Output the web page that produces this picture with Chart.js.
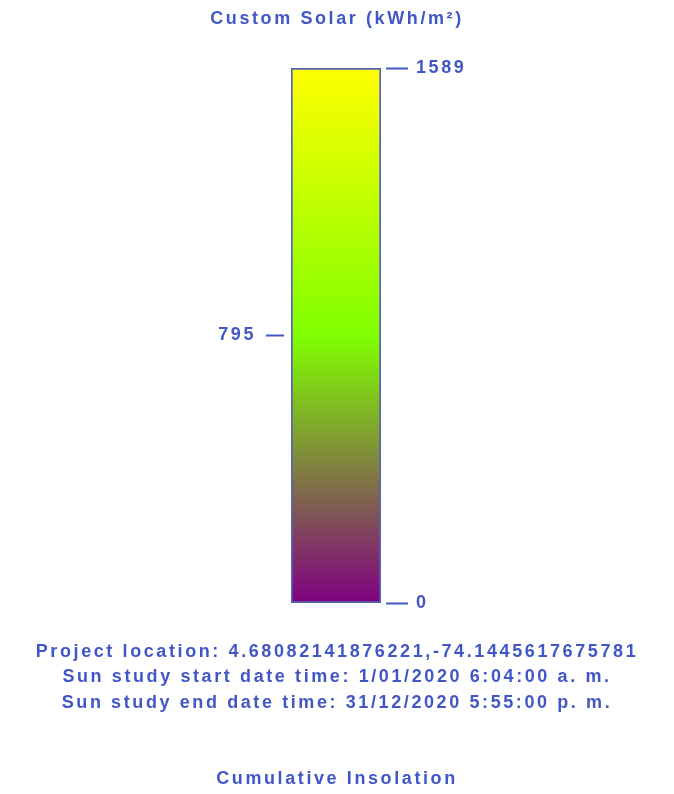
<!DOCTYPE html>
<html>
<head>
<meta charset="utf-8">
<script src="https://cdn.jsdelivr.net/npm/chart.js@4/dist/chart.umd.min.js"></script>
<style>
html, body { margin: 0; padding: 0; background: #fff; }
#legend-chart { display: block; }
</style>
</head>
<body>
<canvas id="legend-chart" width="674" height="794"></canvas>
<script>
// data
const categories = ["Cumulative Insolation"];
const barValues = [1589];
const leftTicks = [795];
const rightTicks = [0, 1589];
const colorStopValues = [0, 795, 1589];
const colorStopColors = ["#800080", "#80ff00", "#ffff00"];
const titleText = "Custom Solar (kWh/m²)";
const footerLines = [
    "Project location: 4.68082141876221,-74.1445617675781",
    "Sun study start date time: 1/01/2020 6:04:00 a. m.",
    "Sun study end date time: 31/12/2020 5:55:00 p. m.",
    "",
    "",
    "Cumulative Insolation"
];

const blue = "#4257c6";
const fontFamily = "'Liberation Sans', Arial, sans-serif";
const textFont = { family: fontFamily, size: 18, weight: 'bold' };

// gradient follows the y scale, so stops sit on their values
function barGradient(context) {
    const chart = context.chart;
    const area = chart.chartArea;
    if (!area) return colorStopColors[0];
    const y = chart.scales.y;
    const grad = chart.ctx.createLinearGradient(0, area.bottom, 0, area.top);
    colorStopValues.forEach((v, i) => {
        let pos = (area.bottom - y.getPixelForValue(v)) / (area.bottom - area.top);
        grad.addColorStop(Math.min(1, Math.max(0, pos)), colorStopColors[i]);
    });
    return grad;
}

const letterSpacing = {
    id: 'letterSpacing',
    beforeDraw(chart) {
        chart.ctx.letterSpacing = '2.6px';
    }
};

new Chart(document.getElementById("legend-chart"), {
    type: 'bar',
    data: {
        labels: categories,
        datasets: [{
            data: barValues,
            backgroundColor: barGradient,
            borderColor: "#5563b5",
            borderWidth: 2,
            borderSkipped: false,
            barPercentage: 1,
            categoryPercentage: 1
        }]
    },
    options: {
        responsive: false,
        animation: false,
        events: [],
        layout: { padding: 0 },
        plugins: {
            legend: { display: false },
            tooltip: { enabled: false },
            title: {
                display: true,
                text: titleText,
                color: blue,
                font: { ...textFont, lineHeight: 1.2 },
                padding: { top: 8.7, bottom: 37.7 }
            },
            subtitle: {
                display: true,
                position: 'bottom',
                text: footerLines,
                color: blue,
                font: { ...textFont, lineHeight: 25.5 / 18 },
                padding: { top: 36.25, bottom: 1.75 }
            }
        },
        scales: {
            x: { display: false },
            y: {
                position: 'left',
                min: 0,
                max: 1589,
                afterBuildTicks: axis => { axis.ticks = leftTicks.map(v => ({ value: v })); },
                afterFit: axis => { axis.width = 291; },
                border: { display: false },
                grid: {
                    drawOnChartArea: false,
                    drawTicks: true,
                    tickLength: 25,
                    tickWidth: 2,
                    tickColor: blue,
                    tickBorderDash: [18, 60]
                },
                ticks: {
                    color: blue,
                    padding: 10,
                    font: textFont,
                    callback: v => String(v)
                }
            },
            y2: {
                position: 'right',
                min: 0,
                max: 1589,
                afterBuildTicks: axis => { axis.ticks = rightTicks.map(v => ({ value: v })); },
                afterFit: axis => { axis.width = 293; },
                border: { display: false },
                grid: {
                    drawOnChartArea: false,
                    drawTicks: true,
                    tickLength: 27,
                    tickWidth: 2,
                    tickColor: blue,
                    tickBorderDash: [0, 5, 22, 60]
                },
                ticks: {
                    color: blue,
                    padding: 8,
                    font: textFont,
                    callback: v => String(v)
                }
            }
        }
    },
    plugins: [letterSpacing]
});
</script>
</body>
</html>
